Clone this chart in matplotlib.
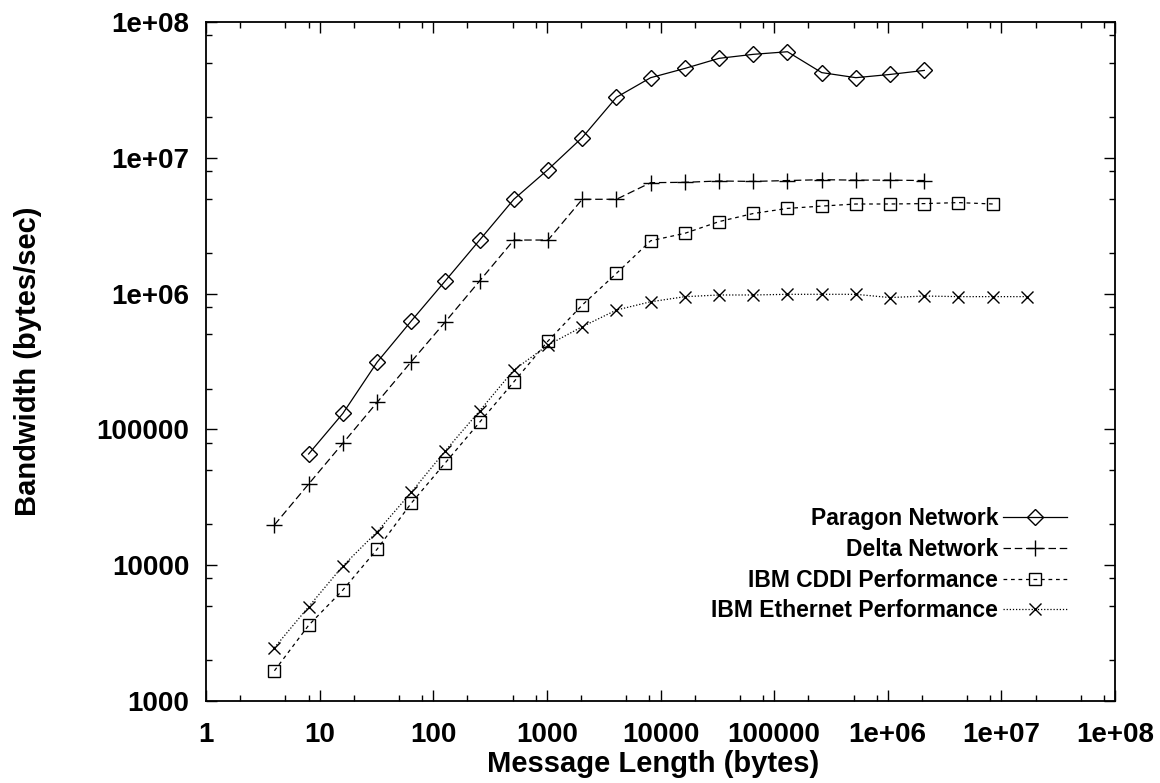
import matplotlib
matplotlib.use("Agg")
import matplotlib.pyplot as plt
from matplotlib.ticker import LogLocator, NullFormatter, FixedFormatter, FixedLocator

plt.rcParams["font.family"] = ["Liberation Sans", "DejaVu Sans"]
plt.rcParams["font.weight"] = "bold"

# message lengths (bytes), powers of two
sizes = [4, 8, 16, 32, 64, 128, 256, 512, 1024, 2048, 4096, 8192, 16384,
         32768, 65536, 131072, 262144, 524288, 1048576, 2097152, 4194304,
         8388608, 16777216]

paragon_x = sizes[1:20]
paragon_bw = [65900, 131000, 312000, 628000, 1245000, 2480000, 4950000,
              8200000, 14100000, 27900000, 38900000, 45500000, 54000000,
              57800000, 60400000, 42400000, 38900000, 41100000, 44000000]

delta_x = sizes[0:20]
delta_bw = [19800, 39600, 79000, 158000, 315000, 621000, 1240000, 2480000,
            2480000, 4950000, 4950000, 6560000, 6600000, 6750000, 6700000,
            6800000, 6900000, 6850000, 6850000, 6800000]

cddi_x = sizes[0:22]
cddi_bw = [1670, 3610, 6560, 13100, 28600, 56900, 113000, 224000, 448000,
           824000, 1410000, 2450000, 2780000, 3390000, 3890000, 4240000,
           4410000, 4570000, 4570000, 4600000, 4680000, 4570000]

eth_x = sizes
eth_bw = [2470, 4940, 9870, 17600, 34400, 69700, 137000, 274000, 418000,
          571000, 757000, 871000, 949000, 977000, 977000, 988000, 988000,
          988000, 935000, 960000, 950000, 950000, 950000]

xticks = [1, 10, 100, 1000, 10000, 100000, 1e6, 1e7, 1e8]
xtick_labels = ["1", "10", "100", "1000", "10000", "100000", "1e+06", "1e+07", "1e+08"]
yticks = [1000, 10000, 100000, 1e6, 1e7, 1e8]
ytick_labels = ["1000", "10000", "100000", "1e+06", "1e+07", "1e+08"]

fig = plt.figure(figsize=(11.6, 7.83), dpi=100)
ax = fig.add_axes([0.1776, 0.1047, 0.7836, 0.8672])

lw = 0.9
ax.plot(paragon_x, paragon_bw, color="black", lw=lw, ls="-", marker="D",
        ms=8, mfc="none", mew=1.0, label="Paragon Network")
ax.plot(delta_x, delta_bw, color="black", lw=lw, ls=(0, (6, 3)), marker="+",
        ms=11, mew=1.0, label="Delta Network")
ax.plot(cddi_x, cddi_bw, color="black", lw=lw, ls=(0, (3, 3)), marker="s",
        ms=8, mfc="none", mew=1.0, label="IBM CDDI Performance")
ax.plot(eth_x, eth_bw, color="black", lw=lw, ls=(0, (1, 1.5)), marker="x",
        ms=9, mew=1.0, label="IBM Ethernet Performance")

ax.set_xscale("log")
ax.set_yscale("log")
ax.set_xlim(1, 1e8)
ax.set_ylim(1000, 1e8)

ax.xaxis.set_major_locator(FixedLocator(xticks))
ax.xaxis.set_major_formatter(FixedFormatter(xtick_labels))
ax.yaxis.set_major_locator(FixedLocator(yticks))
ax.yaxis.set_major_formatter(FixedFormatter(ytick_labels))
ax.xaxis.set_minor_locator(LogLocator(base=10, subs=[2, 5, 8], numticks=20))
ax.yaxis.set_minor_locator(LogLocator(base=10, subs=[2, 5, 8], numticks=20))
ax.xaxis.set_minor_formatter(NullFormatter())
ax.yaxis.set_minor_formatter(NullFormatter())

ax.tick_params(which="both", direction="in", top=True, right=True, width=1.0)
ax.tick_params(which="major", length=8)
ax.tick_params(which="minor", length=4)
ax.tick_params(axis="x", labelsize=20, pad=15)
ax.tick_params(axis="y", labelsize=20, pad=12)
for sp in ax.spines.values():
    sp.set_linewidth(1.3)

ax.set_xlabel("Message Length (bytes)", fontsize=21, fontweight="bold")
ax.set_ylabel("Bandwidth (bytes/sec)", fontsize=21, fontweight="bold")
ax.xaxis.set_label_coords(0.492, -0.072)
ax.yaxis.set_label_coords(-0.180, 0.5)

leg = ax.legend(loc="upper right", bbox_to_anchor=(0.947, 0.285),
                frameon=False, markerfirst=False, fontsize=16.5,
                handlelength=2.8, handletextpad=0.2, labelspacing=0.33,
                borderpad=0, borderaxespad=0)

fig.savefig("out.png", dpi=100)
